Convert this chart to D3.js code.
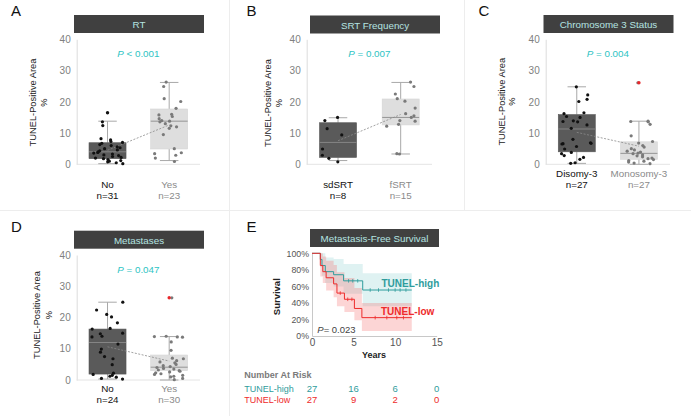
<!DOCTYPE html>
<meta charset="utf-8">
<head>
	<title>TUNEL figure</title>
	<style>
		body { margin: 0; background: #fff; }
		svg { display: block; font-family: "Liberation Sans", Arial, sans-serif; }
	</style>
	<script src="https://cdn.jsdelivr.net/npm/d3@7"></script>
</head>
<body>
<svg id="fig" width="691" height="416"></svg>
<script>
	// ---- data ----
	const yTicks = [0, 10, 20, 30, 40];

	// A: RT
	const rtGroups = ["No", "Yes"];
	const rtN = [31, 23];
	const rtNo = [0.2, 0.5, 0.8, 1.0, 1.2, 1.5, 1.8, 2.0, 2.2, 2.5, 2.8, 3.0, 3.3, 3.6, 3.8, 4.0, 4.3, 4.6, 5.0, 5.3, 5.6, 6.0, 6.3, 6.7, 7.0, 7.3, 7.8, 8.2, 12.4, 13.6];
	const rtYes = [26.3, 24.9, 21.0, 20.1, 17.9, 16.0, 15.3, 14.6, 14.0, 13.8, 13.6, 13.0, 12.3, 12.0, 15.8, 9.5, 5.0, 3.7, 3.4, 2.9, 2.0, 0.9, 11.5];
	const rtBoxes = [[0.2, 1.8, 4.0, 6.9, 13.8], [1.2, 4.9, 13.8, 17.7, 26.2]]; // lo, q1, median, q3, hi
	const rtOutliers = [[16.5], []];

	// B: SRT frequency
	const srtGroups = ["sdSRT", "fSRT"];
	const srtN = [8, 15];
	const srtSd = [15.0, 14.0, 11.4, 9.4, 4.9, 2.9, 1.9, 0.8];
	const srtF = [26.3, 24.9, 22.5, 21.0, 20.2, 18.0, 16.2, 15.5, 15.0, 14.0, 13.8, 12.8, 12.2, 3.4, 3.3];
	const srtBoxes = [[1.2, 2.2, 7.0, 13.3, 14.9], [3.3, 12.6, 15.0, 20.9, 26.2]];
	const srtOutliers = [[], []];

	// C: Chromosome 3 status
	const chrGroups = ["Disomy-3", "Monosomy-3"];
	const chrN = [27, 27];
	const chrDi = [24.8, 22.2, 20.8, 20.1, 16.5, 16.2, 15.3, 15.0, 13.9, 13.7, 13.6, 12.6, 11.5, 8.0, 6.9, 6.7, 6.6, 6.5, 5.7, 4.9, 3.8, 3.4, 2.8, 2.2, 1.6, 0.5, 0.3];
	const chrMono = [26.1, 13.8, 13.7, 13.6, 12.8, 9.1, 7.3, 6.8, 6.0, 5.5, 5.0, 4.6, 4.2, 3.9, 3.6, 3.4, 3.0, 2.7, 2.4, 2.0, 1.8, 1.5, 1.2, 1.0, 0.7, 0.4, 0.2];
	const chrBoxes = [[0.3, 4.0, 11.3, 15.9, 24.8], [0.0, 1.6, 3.5, 7.2, 13.8]];
	const chrOutliers = [[], [26.1]];

	// D: Metastases
	const metGroups = ["No", "Yes"];
	const metN = [24, 30];
	const metNo = [24.9, 22.4, 21.0, 20.2, 18.3, 16.5, 16.3, 15.0, 14.8, 14.0, 13.8, 11.5, 9.9, 8.9, 7.5, 6.8, 4.9, 2.2, 1.8, 1.5, 1.2, 0.9, 0.5, 0.3];
	const metYes = [26.3, 14.0, 13.9, 13.8, 13.7, 12.2, 9.5, 7.0, 6.8, 6.2, 5.8, 5.5, 5.0, 4.6, 4.3, 4.0, 3.7, 3.5, 3.2, 3.0, 2.8, 2.6, 2.3, 2.0, 1.8, 1.5, 1.2, 1.0, 0.5, 0.1];
	const metBoxes = [[0.3, 1.9, 12.0, 16.3, 24.9], [0.0, 3.0, 4.1, 8.0, 13.9]];
	const metOutliers = [[], [26.3]];

	// E: metastasis-free survival (step times in years, survival %, 95% band)
	const highTimes = [0, 1.0, 1.2, 1.6, 2.6, 3.8, 6.1, 12];
	const highSurv = [100, 92.6, 85.2, 77.8, 74.1, 66.7, 55.6, 55.6];
	const highUpper = [100, 100, 100, 95, 93, 87, 76, 76];
	const highLower = [100, 83, 73, 64, 60, 51, 36, 36];
	const highCensor = [4.4, 4.9, 5.5, 7.0, 8.0, 9.2, 10.0, 10.6, 11.3];
	const lowTimes = [0, 1.0, 1.3, 1.7, 2.6, 3.0, 3.9, 5.1, 6.0, 12];
	const lowSurv = [100, 85.2, 77.8, 70.4, 63.0, 51.9, 44.4, 33.3, 22.2, 22.2];
	const lowUpper = [100, 100, 96, 91, 86, 77, 70, 58, 40, 40];
	const lowLower = [100, 72, 64, 55, 47, 36, 29, 19, 6, 6];
	const lowCensor = [3.4, 4.3, 4.8, 7.6, 9.0, 10.2, 11.0];
	const riskYears = [0, 5, 10, 15];
	const riskHigh = [27, 16, 6, 0];
	const riskLow = [27, 9, 2, 0];
	const survTicks = [0, 20, 40, 60, 80, 100];
	const yearTicks = [0, 5, 10, 15];

	const TEAL = "#2ec4c4", HEAD_TEXT = "#b5e4e0";
	const svg = d3.select("#fig");

	//faint panel separators
	const sep = svg.append("g").attr("stroke", "#ededed").attr("stroke-width", 1);
	sep.append("line").attr("x1", 229.5).attr("x2", 229.5).attr("y1", 0).attr("y2", 416);
	sep.append("line").attr("x1", 464.5).attr("x2", 464.5).attr("y1", 0).attr("y2", 210);
	sep.append("line").attr("x1", 0).attr("x2", 691).attr("y1", 210.5).attr("y2", 210.5);

	function header(x, y, w, label) {
		svg.append("rect").attr("x", x).attr("y", y).attr("width", w).attr("height", 18).attr("fill", "#404040");
		svg.append("text").attr("x", x + w/2).attr("y", y + 9.5).attr("text-anchor", "middle").attr("dominant-baseline", "central")
			.style("font-size", "9.8px").attr("fill", HEAD_TEXT).text(label);
	}
	function letter(x, y, t) {
		svg.append("text").attr("x", x).attr("y", y).style("font-size", "15px").attr("fill", "#111").text(t);
	}

	function boxPanel(cfg, lay) {
		const g = svg.append("g");
		const y = d3.scaleLinear().domain([0, 40]).range([lay.y0, lay.y1]);
		const x = d3.scalePoint().domain(cfg.groups).range([lay.ox, lay.x1]).padding(0.5);
		const bw = 37;
		const rnd = d3.randomLcg(lay.seed);

		letter(lay.lx, lay.ly, cfg.id);
		header(lay.hx, lay.hy, 130, cfg.title);

		// axes
		const ax = g.append("g").attr("transform", `translate(${lay.ox},0)`)
			.call(d3.axisLeft(y).tickValues(yTicks).tickSize(0).tickSizeOuter(0).tickPadding(6));
		ax.select(".domain").attr("stroke", "#dcdcdc");
		ax.selectAll("text").attr("fill", "#808080").style("font-size", "10px").attr("font-family", null);
		g.append("line").attr("x1", lay.ox).attr("x2", lay.x1).attr("y1", y(0)).attr("y2", y(0)).attr("stroke", "#e4e4e4");

		// y title
		const yt = g.append("text").attr("transform", `translate(${lay.tx},${lay.ty}) rotate(-90)`)
			.attr("text-anchor", "middle").attr("dominant-baseline", "central").style("font-size", "9.3px").attr("fill", "#222");
		yt.text("TUNEL-Positive Area");
		g.append("text").attr("transform", `translate(${lay.px},${lay.ty}) rotate(-90)`)
			.attr("text-anchor", "middle").attr("dominant-baseline", "central").style("font-size", "9.3px").attr("fill", "#222").text("%");

		// p value
		const pt = g.append("text").attr("x", (lay.ox + lay.x1)/2).attr("y", y(35) + 2.5).attr("text-anchor", "middle")
			.style("font-size", "9.8px").attr("fill", TEAL);
		pt.append("tspan").style("font-style", "italic").text("P");
		pt.append("tspan").text(" " + cfg.p);

		cfg.groups.forEach((grp, i) => {
			const [lo, q1, med, q3, hi] = cfg.boxes[i];
			const cx = x(grp);
			const dark = i === 0;
			g.append("line").attr("x1", cx).attr("x2", cx).attr("y1", y(hi)).attr("y2", y(q3)).attr("stroke", "#a8a8a8");
			g.append("line").attr("x1", cx).attr("x2", cx).attr("y1", y(q1)).attr("y2", y(lo)).attr("stroke", "#a8a8a8");
			[hi, lo].forEach(v => g.append("line").attr("x1", cx - bw/4).attr("x2", cx + bw/4).attr("y1", y(v)).attr("y2", y(v)).attr("stroke", "#a8a8a8"));
			g.append("rect").attr("x", cx - bw/2).attr("y", y(q3)).attr("width", bw).attr("height", y(q1) - y(q3))
				.attr("fill", dark ? "#5a5a5a" : "#dedede").attr("stroke", dark ? "#555" : "#d6d6d6").attr("stroke-width", 0.6);
			g.append("line").attr("x1", cx - bw/2).attr("x2", cx + bw/2).attr("y1", y(med)).attr("y2", y(med))
				.attr("stroke", dark ? "#8a8a8a" : "#8c8c8c").attr("stroke-width", 0.9);
		});

		// line through group means
		const means = cfg.values.map(v => d3.mean(v));
		g.append("line").attr("x1", x(cfg.groups[0])).attr("x2", x(cfg.groups[1]))
			.attr("y1", y(means[0])).attr("y2", y(means[1]))
			.attr("stroke", "#8a8a8a").attr("stroke-width", 0.8).attr("stroke-dasharray", "2,1.5");

		cfg.groups.forEach((grp, i) => {
			const cx = x(grp);
			const col = i === 0 ? "#111" : "#7a7a7a";
			g.append("g").selectAll("circle").data(cfg.values[i]).join("circle")
				.attr("cx", () => cx + (rnd() - 0.5) * bw * 0.85)
				.attr("cy", d => y(d)).attr("r", 1.6).attr("fill", col);
			g.append("g").selectAll("circle").data(cfg.outliers[i]).join("circle")
				.attr("cx", cx).attr("cy", d => y(d)).attr("r", 1.7).attr("fill", i === 0 ? "#111" : "#e8262a");
			g.append("text").attr("x", cx).attr("y", lay.cy).attr("text-anchor", "middle").style("font-size", "9.8px")
				.attr("fill", i === 0 ? "#111" : "#8a8a8a").text(grp);
			g.append("text").attr("x", cx).attr("y", lay.ny).attr("text-anchor", "middle").style("font-size", "9.8px")
				.attr("fill", i === 0 ? "#111" : "#8a8a8a").text("n=" + cfg.n[i]);
		});
	}

	boxPanel({id: "A", title: "RT", groups: rtGroups, n: rtN, values: [rtNo, rtYes], boxes: rtBoxes, outliers: rtOutliers, p: "< 0.001"},
		{ox: 76.7, x1: 200, y0: 164.3, y1: 39.3, lx: 11, ly: 16, hx: 74, hy: 15, tx: 33.3, px: 43.7, ty: 102.5, cy: 188.3, ny: 198.5, seed: 0.11});
	boxPanel({id: "B", title: "SRT Frequency", groups: srtGroups, n: srtN, values: [srtSd, srtF], boxes: srtBoxes, outliers: srtOutliers, p: "= 0.007"},
		{ox: 306.7, x1: 432, y0: 164.3, y1: 39.3, lx: 246.5, ly: 16, hx: 310, hy: 15.5, tx: 268.3, px: 279.3, ty: 103, cy: 188.3, ny: 199, seed: 0.37});
	boxPanel({id: "C", title: "Chromosome 3 Status", groups: chrGroups, n: chrN, values: [chrDi, chrMono], boxes: chrBoxes, outliers: chrOutliers, p: "= 0.004"},
		{ox: 545.7, x1: 670, y0: 164.3, y1: 39.3, lx: 478.5, ly: 16, hx: 543.5, hy: 15, tx: 501.7, px: 511.7, ty: 101.7, cy: 176.5, ny: 188, seed: 0.53});
	boxPanel({id: "D", title: "Metastases", groups: metGroups, n: metN, values: [metNo, metYes], boxes: metBoxes, outliers: metOutliers, p: "= 0.047"},
		{ox: 76.7, x1: 200, y0: 380, y1: 255, lx: 11, ly: 232, hx: 74, hy: 230.7, tx: 37, px: 49, ty: 315, cy: 392.3, ny: 403, seed: 0.79});

	// ---- E: Kaplan-Meier ----
	letter(246.5, 232, "E");
	header(310, 229, 129, "Metastasis-Free Survival");
	const xs = d3.scaleLinear().domain([0, 15]).range([312, 436.7]);
	const ys = d3.scaleLinear().domain([0, 100]).range([336, 253.3]);
	const eg = svg.append("g");

	const xAx = eg.append("g").attr("transform", `translate(0,${ys(0)})`)
		.call(d3.axisBottom(xs).tickValues(yearTicks).tickSize(0).tickSizeOuter(0).tickPadding(3));
	const yAx = eg.append("g").attr("transform", `translate(${xs(0)},0)`)
		.call(d3.axisLeft(ys).tickValues(survTicks).tickFormat(d => d + "%").tickSize(0).tickSizeOuter(0).tickPadding(3));
	[xAx, yAx].forEach(a => {
		a.select(".domain").attr("stroke", "#c8c8c8");
		a.selectAll("text").attr("fill", "#555").attr("font-family", null);
	});
	xAx.selectAll("text").style("font-size", "10px");
	yAx.selectAll("text").style("font-size", "8.8px");

	const series = [
		{t: highTimes, s: highSurv, up: highUpper, lo: highLower, c: highCensor, col: "#2f9c9c", band: "rgba(110,195,195,0.22)"},
		{t: lowTimes, s: lowSurv, up: lowUpper, lo: lowLower, c: lowCensor, col: "#ee2b2b", band: "rgba(245,105,105,0.28)"}
	];
	series.forEach(sr => {
		const pts = sr.t.map((t, i) => ({t, s: sr.s[i], up: sr.up[i], lo: sr.lo[i]}));
		eg.append("path").datum(pts).attr("fill", sr.band)
			.attr("d", d3.area().curve(d3.curveStepAfter).x(d => xs(d.t)).y0(d => ys(d.lo)).y1(d => ys(d.up)));
	});
	series.forEach(sr => {
		const pts = sr.t.map((t, i) => ({t, s: sr.s[i]}));
		eg.append("path").datum(pts).attr("fill", "none").attr("stroke", sr.col).attr("stroke-width", 1)
			.attr("d", d3.line().curve(d3.curveStepAfter).x(d => xs(d.t)).y(d => ys(d.s)));
		const stepAt = t => sr.s[d3.bisectRight(sr.t, t) - 1];
		eg.append("g").selectAll("line").data(sr.c).join("line")
			.attr("x1", d => xs(d)).attr("x2", d => xs(d))
			.attr("y1", d => ys(stepAt(d)) - 1.8).attr("y2", d => ys(stepAt(d)) + 1.8)
			.attr("stroke", sr.col).attr("stroke-width", 0.8);
	});

	eg.append("text").attr("x", 381.5).attr("y", 287.3).style("font-size", "10px").style("font-weight", "bold").attr("fill", "#2f9c9c").text("TUNEL-high");
	eg.append("text").attr("x", 381).attr("y", 315).style("font-size", "10px").style("font-weight", "bold").attr("fill", "#ee2b2b").text("TUNEL-low");
	const ep = eg.append("text").attr("x", 317.3).attr("y", 332.7).style("font-size", "9.5px").attr("fill", "#444");
	ep.append("tspan").style("font-style", "italic").text("P");
	ep.append("tspan").text("= 0.023");

	eg.append("text").attr("transform", `translate(276.7,296.7) rotate(-90)`).attr("text-anchor", "middle").attr("dominant-baseline", "central")
		.style("font-size", "9.5px").style("font-weight", "bold").attr("fill", "#222").text("Survival");
	eg.append("text").attr("x", 374).attr("y", 358).attr("text-anchor", "middle")
		.style("font-size", "9px").style("font-weight", "bold").attr("fill", "#222").text("Years");

	// risk table
	eg.append("text").attr("x", 244.3).attr("y", 378).style("font-size", "9px").style("font-weight", "bold").attr("fill", "#7a7a7a").text("Number At Risk");
	[[riskHigh, "TUNEL-high", "#2f9c9c", 391.5], [riskLow, "TUNEL-low", "#ee2b2b", 403]].forEach(([vals, name, col, yy]) => {
		eg.append("text").attr("x", 244.3).attr("y", yy).style("font-size", "9px").attr("fill", col).text(name);
		eg.append("g").selectAll("text").data(vals).join("text")
			.attr("x", (d, i) => xs(riskYears[i])).attr("y", yy).attr("text-anchor", "middle")
			.style("font-size", "9.5px").attr("fill", col).text(d => d);
	});
</script>
</body>
